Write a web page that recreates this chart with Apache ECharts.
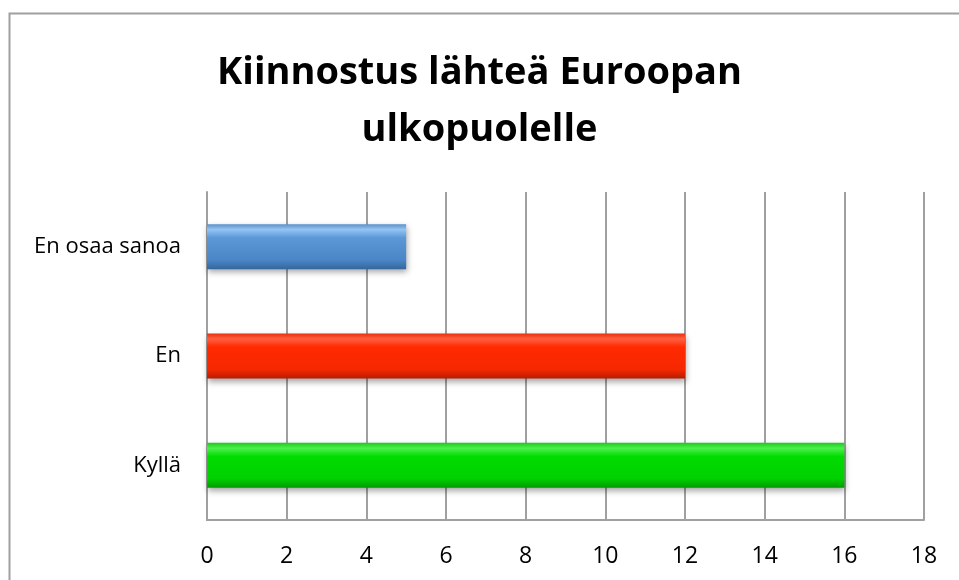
<!DOCTYPE html>
<html><head><meta charset="utf-8">
<script src="https://cdn.jsdelivr.net/npm/echarts@6/dist/echarts.min.js"></script>
<style>html,body{margin:0;padding:0;background:#fff}#c{width:959px;height:580px}</style>
</head><body><div id="c"></div>
<script>
const titleText = 'Kiinnostus lähteä Euroopan\nulkopuolelle';
const categories = ['Kyllä', 'En', 'En osaa sanoa'];
const values = [16, 12, 5];
const xTicks = [0, 2, 4, 6, 8, 10, 12, 14, 16, 18];

function grad(top, hi, mid, low, bottom) {
  return new echarts.graphic.LinearGradient(0, 0, 0, 1, [
    {offset: 0, color: top}, {offset: 0.12, color: hi}, {offset: 0.3, color: mid},
    {offset: 0.8, color: low}, {offset: 1, color: bottom}
  ]);
}
const colors = [
  grad('#1fc81f', '#4cf04c', '#00dc00', '#00d000', '#009a00'),
  grad('#e83010', '#ff6040', '#ff2a00', '#f62800', '#b81c00'),
  grad('#5a90cc', '#94c4f2', '#5c98d8', '#4a86c6', '#35669c')
];

const chart = echarts.init(document.getElementById('c'));
chart.setOption({
  animation: false,
  graphic: [{type: 'rect', shape: {x: 9.5, y: 13.5, width: 1000, height: 1000},
    style: {fill: 'none', stroke: '#a0a0a0', lineWidth: 2}, silent: true}],
  title: {text: titleText, left: 'center', top: 40,
    textStyle: {fontFamily: 'Open Sans', fontWeight: 'bold', fontSize: 38, color: '#000', lineHeight: 57}},
  grid: {left: 207, right: 35, top: 192, bottom: 60},
  xAxis: {type: 'value', min: 0, max: 18, interval: 2,
    axisLine: {show: true, lineStyle: {color: '#a0a0a0', width: 2}},
    axisTick: {show: false},
    splitLine: {show: true, lineStyle: {color: '#a0a0a0', width: 2}},
    axisLabel: {color: '#000', fontFamily: 'Open Sans', fontSize: 23, margin: 25,
      formatter: v => xTicks.includes(v) ? String(v) : ''}},
  yAxis: {type: 'category', data: categories,
    axisLine: {show: true, lineStyle: {color: '#a0a0a0', width: 2}},
    axisTick: {show: false},
    axisLabel: {color: '#000', fontFamily: 'Open Sans', fontSize: 22, margin: 26}},
  series: [{type: 'bar', data: values.map((v, i) => ({value: v, itemStyle: {color: colors[i]}})),
    barWidth: 45,
    itemStyle: {shadowColor: 'rgba(0,0,0,0.35)', shadowBlur: 6, shadowOffsetY: 3, shadowOffsetX: 1}}]
});
</script></body></html>
